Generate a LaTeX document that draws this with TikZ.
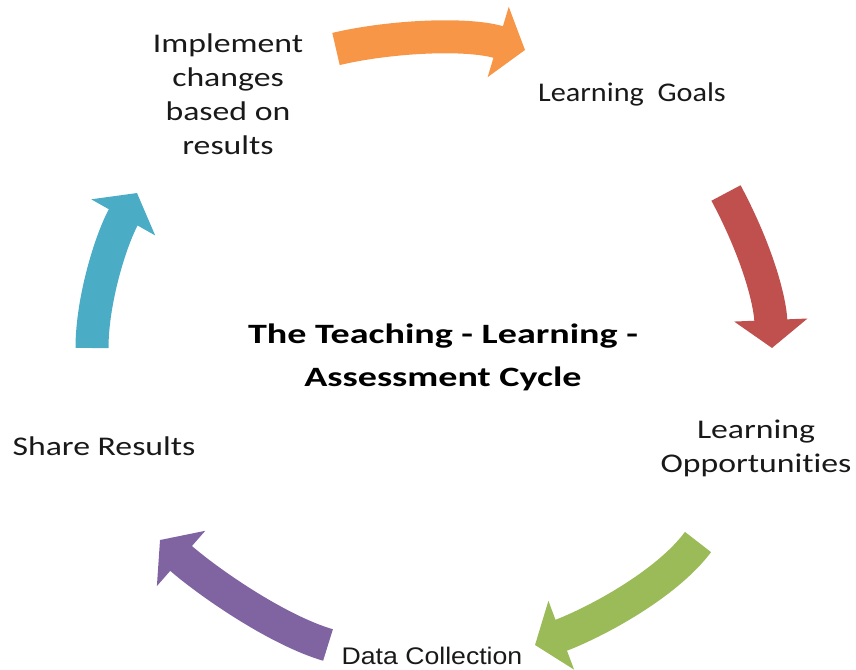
\documentclass[tikz,border=0pt]{standalone}
\usepackage{fontspec}
\setmainfont{Carlito}[Ligatures=NoCommon]
\newfontfamily\stagefont{Carlito}[Ligatures=NoCommon, FakeStretch=1.25]
\newfontfamily\goalsfont{Carlito}[Ligatures=NoCommon, FakeStretch=1.12]
\newfontfamily\titlefont{Carlito}[Ligatures=NoCommon, FakeStretch=1.36]
\newfontfamily\arialfont{Liberation Sans}[FakeStretch=1.11]
\usetikzlibrary{arrows.meta}

\definecolor{cycorange}{HTML}{F79646}
\definecolor{cycred}{HTML}{C0504D}
\definecolor{cycgreen}{HTML}{9BBB59}
\definecolor{cycpurple}{HTML}{8064A2}
\definecolor{cycblue}{HTML}{4BACC6}

\tikzset{
  cycarrow/.style={line width=33pt, line cap=butt, -{Triangle[length=28pt,width=72pt]}},
  stagetext/.style={font=\stagefont\fontsize{27}{34}\selectfont, align=center, text=black!90, inner sep=0pt},
  titletext/.style={font=\titlefont\bfseries\fontsize{28}{43}\selectfont, align=center, inner sep=0pt}
}

\begin{document}
\begin{tikzpicture}[x=1pt,y=-1pt]
\useasboundingbox (0,0) rectangle (856,669);
    \node[titletext] (title) at (443,357) {The Teaching - Learning -\\Assessment Cycle};
    \node[stagetext] (impl) at (228,94) {Implement\\changes\\based on\\results};
    \node[stagetext, font=\goalsfont\fontsize{27}{34}\selectfont, anchor=base] (goals) at (632,101) {Learning~ Goals};
    \node[stagetext] (opps) at (756,448) {Learning\\Opportunities};
    \node[stagetext, font=\arialfont\fontsize{24}{30}\selectfont, anchor=base] (data) at (432,664) {Data Collection};
    \node[stagetext, anchor=base] (share) at (104,455) {Share Results};
%% the arrows of the cycle
    \coordinate (orangeA) at (336,49);  \coordinate (orangeB) at (525,50);
    \coordinate (redA) at (726,193);    \coordinate (redB) at (772,348);
    \coordinate (greenA) at (698,542);  \coordinate (greenB) at (535,645);
    \coordinate (purpleA) at (328,645); \coordinate (purpleB) at (160,540);
    \coordinate (blueA) at (92,348);    \coordinate (blueB) at (137,193);
    \draw[cycarrow, cycorange] (orangeA) .. controls (386,37) and (465,32) .. (orangeB);
    \draw[cycarrow, cycred] (redA) .. controls (757,251) and (770,300) .. (redB);
    \draw[cycarrow, cycgreen] (greenA) .. controls (666,585) and (594,623) .. (greenB);
    \draw[cycarrow, cycpurple] (purpleA) .. controls (277,630) and (208,582) .. (purpleB);
    \draw[cycarrow, cycblue] (blueA) .. controls (92,300) and (111,239) .. (blueB);
\end{tikzpicture}
\end{document}
